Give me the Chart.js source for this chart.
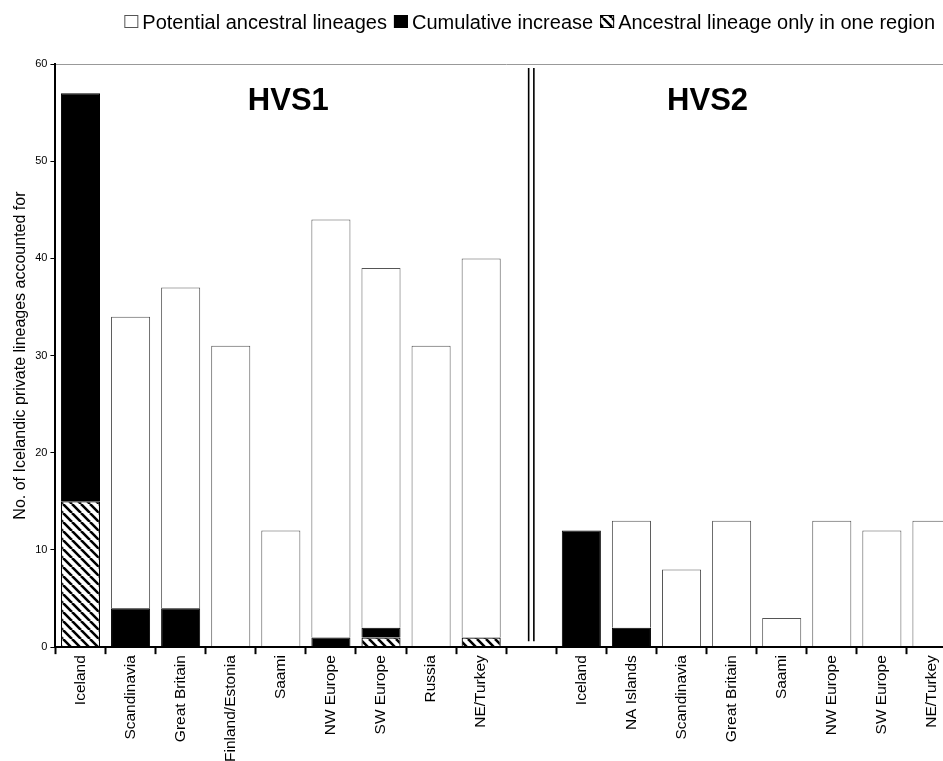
<!DOCTYPE html>
<html>
<head>
<meta charset="utf-8">
<script src="https://cdn.jsdelivr.net/npm/chart.js@4.4.1/dist/chart.umd.min.js"></script>
<style>
    html, body { margin: 0; padding: 0; background: #fff; overflow: hidden; }
    #contenedor { position: relative; width: 957px; height: 761px; }
</style>
</head>
<body>
<div id="contenedor"><canvas id="chart-linajes"></canvas></div>
<script>
// ============================================
// DATOS
// ============================================

const categorias = [
    'Iceland', 'Scandinavia', 'Great Britain', 'Finland/Estonia', 'Saami',
    'NW Europe', 'SW Europe', 'Russia', 'NE/Turkey',
    '',
    'Iceland', 'NA Islands', 'Scandinavia', 'Great Britain', 'Saami',
    'NW Europe', 'SW Europe', 'NE/Turkey'
];

// segmentos apilados (abajo -> arriba)
const soloUnaRegion    = [15, null, null, null, null, null, 1, null, 1, null, null, null, null, null, null, null, null, null];
const aumentoAcumulado = [42, 4, 4, null, null, 1, 1, null, null, null, 12, 2, null, null, null, null, null, null];
const potenciales      = [null, 30, 33, 31, 12, 43, 37, 31, 39, null, null, 11, 8, 13, 3, 13, 12, 13];

const ticksY = [0, 10, 20, 30, 40, 50, 60];

const etiquetasLeyenda = [
    'Potential ancestral lineages',
    'Cumulative increase',
    'Ancestral lineage only in one region'
];

const FUENTE = 'Arial, "Liberation Sans", Helvetica, sans-serif';

// ============================================
// TRAMA RAYADA
// ============================================

function crearTrama() {
    const s = 9;
    const c = document.createElement('canvas');
    c.width = s;
    c.height = s;
    const g = c.getContext('2d');
    g.fillStyle = '#fff';
    g.fillRect(0, 0, s, s);
    g.strokeStyle = '#000';
    g.lineWidth = 2.6;
    g.beginPath();
    for (const o of [-s, 0, s]) {
        g.moveTo(o, 0);
        g.lineTo(o + s, s);
    }
    g.stroke();
    return g.createPattern(c, 'repeat');
}

const trama = crearTrama();

// ============================================
// PLUGIN: leyenda, títulos HVS y separador
// ============================================

const decoraciones = {
    id: 'decoraciones',
    afterDraw(chart) {
        const ctx = chart.ctx;
        const x = chart.scales.x;
        const y = chart.scales.y;

        ctx.save();

        // separador doble entre HVS1 y HVS2
        const xc = x.getPixelForValue(9);
        ctx.strokeStyle = '#000';
        ctx.lineWidth = 1.6;
        ctx.beginPath();
        [-2.6, 2.6].forEach(d => {
            ctx.moveTo(xc + d, y.getPixelForValue(59.6));
            ctx.lineTo(xc + d, y.getPixelForValue(0.6));
        });
        ctx.stroke();

        // títulos de panel
        ctx.fillStyle = '#000';
        ctx.font = 'bold 31px ' + FUENTE;
        ctx.textAlign = 'center';
        ctx.textBaseline = 'alphabetic';
        ctx.fillText('HVS1', x.getPixelForValue(4.15), y.getPixelForValue(55.3));
        ctx.fillText('HVS2', x.getPixelForValue(12.52), y.getPixelForValue(55.3));

        // leyenda (alineada a la derecha)
        const rellenos = ['#fff', '#000', trama];
        ctx.font = '20px ' + FUENTE;
        ctx.textAlign = 'left';
        const caja = 14, hueco = 4, sep = 7;
        const anchos = etiquetasLeyenda.map(t => ctx.measureText(t).width);
        const total = anchos.reduce((a, w) => a + caja + hueco + w, 0) + sep * (anchos.length - 1);
        let lx = 935 - total;
        const ly = 15;
        etiquetasLeyenda.forEach((t, i) => {
            ctx.fillStyle = rellenos[i];
            ctx.fillRect(lx, ly, caja, 13);
            ctx.strokeStyle = i === 0 ? '#555' : '#000';
            ctx.lineWidth = 1;
            ctx.strokeRect(lx + 0.5, ly + 0.5, caja - 1, 12);
            ctx.fillStyle = '#000';
            ctx.fillText(t, lx + caja + hueco, ly + 14);
            lx += caja + hueco + anchos[i] + sep;
        });

        ctx.restore();
    }
};

// ============================================
// GRÁFICO
// ============================================

const ctxLinajes = document.getElementById('chart-linajes');

new Chart(ctxLinajes, {
    type: 'bar',
    data: {
        labels: categorias,
        datasets: [
            {
                label: etiquetasLeyenda[2],
                data: soloUnaRegion,
                backgroundColor: trama,
                borderColor: '#000',
                borderWidth: 1.2
            },
            {
                label: etiquetasLeyenda[1],
                data: aumentoAcumulado,
                backgroundColor: '#000',
                borderColor: '#000',
                borderWidth: 1
            },
            {
                label: etiquetasLeyenda[0],
                data: potenciales,
                backgroundColor: '#fff',
                borderColor: '#555',
                borderWidth: 1
            }
        ]
    },
    options: {
        responsive: true,
        maintainAspectRatio: false,
        animation: false,
        layout: {
            padding: { top: 64, left: 3, right: 0, bottom: -2 }
        },
        datasets: {
            bar: {
                barPercentage: 0.78,
                categoryPercentage: 1,
                borderSkipped: 'start'
            }
        },
        plugins: {
            legend: { display: false },
            tooltip: { enabled: false }
        },
        scales: {
            x: {
                stacked: true,
                border: { color: '#000', width: 2, z: 1 },
                grid: {
                    offset: true,
                    drawOnChartArea: false,
                    drawTicks: true,
                    tickLength: 7,
                    tickWidth: 2,
                    tickColor: '#000'
                },
                ticks: {
                    color: '#000',
                    font: { family: FUENTE, size: 15.5 },
                    maxRotation: 90,
                    minRotation: 90,
                    padding: 1,
                    autoSkip: false
                }
            },
            y: {
                stacked: true,
                min: 0,
                max: 60,
                afterBuildTicks(scale) {
                    scale.ticks = ticksY.map(v => ({ value: v }));
                },
                border: { color: '#000', width: 2, z: 1 },
                grid: {
                    color: c => (c.tick && c.tick.value === 60 ? '#999' : 'rgba(0,0,0,0)'),
                    lineWidth: 1,
                    tickColor: '#000',
                    tickLength: 5,
                    tickWidth: 1
                },
                ticks: {
                    color: '#000',
                    font: { family: FUENTE, size: 11 },
                    padding: 3
                },
                title: {
                    display: true,
                    text: 'No. of Icelandic private lineages accounted for',
                    color: '#000',
                    font: { family: FUENTE, size: 16 },
                    padding: { top: 8, bottom: 2 }
                }
            }
        }
    },
    plugins: [decoraciones]
});
</script>
</body>
</html>
